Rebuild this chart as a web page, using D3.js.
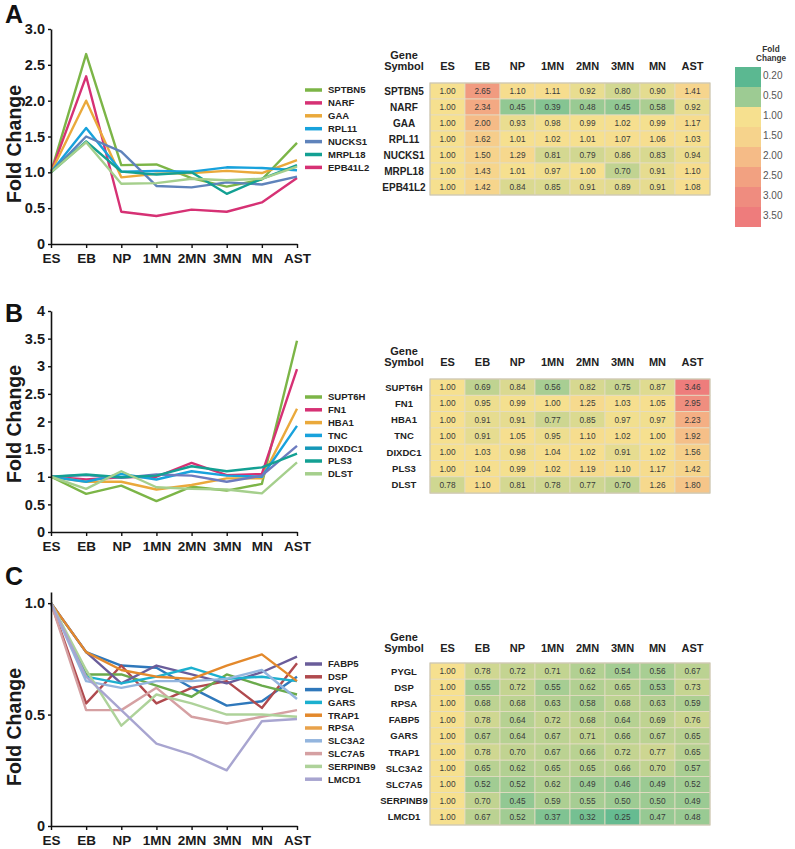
<!DOCTYPE html>
<html><head><meta charset="utf-8">
<script src="https://cdn.jsdelivr.net/npm/d3@7"></script>
<style>body{margin:0;background:#fff}svg{display:block;font-family:"Liberation Sans",Arial,Helvetica,sans-serif}</style>
</head><body><svg id="c" width="795" height="849"></svg>
<script>
// ---------- DATA ----------
const stages = ["ES","EB","NP","1MN","2MN","3MN","MN","AST"];

const genesA = ["SPTBN5","NARF","GAA","RPL11","NUCKS1","MRPL18","EPB41L2"];
const valuesA = [
  [1.00,2.65,1.10,1.11,0.92,0.80,0.90,1.41],
  [1.00,2.34,0.45,0.39,0.48,0.45,0.58,0.92],
  [1.00,2.00,0.93,0.98,0.99,1.02,0.99,1.17],
  [1.00,1.62,1.01,1.02,1.01,1.07,1.06,1.03],
  [1.00,1.50,1.29,0.81,0.79,0.86,0.83,0.94],
  [1.00,1.43,1.01,0.97,1.00,0.70,0.91,1.10],
  [1.00,1.42,0.84,0.85,0.91,0.89,0.91,1.08]
];
const lineColorsA = ["#7cb547","#d63174","#eaa93b","#18a2dc","#5f83bb","#13a093","#a5cf8c"];
const legendColorsA = ["#7cb547","#d63174","#eaa93b","#18a2dc","#5f83bb","#13a093","#d63174"];
const ticksA = [0,0.5,1.0,1.5,2.0,2.5,3.0];
const tickLabelsA = ["0","0.5","1.0","1.5","2.0","2.5","3.0"];

const genesB = ["SUPT6H","FN1","HBA1","TNC","DIXDC1","PLS3","DLST"];
const valuesB = [
  [1.00,0.69,0.84,0.56,0.82,0.75,0.87,3.46],
  [1.00,0.95,0.99,1.00,1.25,1.03,1.05,2.95],
  [1.00,0.91,0.91,0.77,0.85,0.97,0.97,2.23],
  [1.00,0.91,1.05,0.95,1.10,1.02,1.00,1.92],
  [1.00,1.03,0.98,1.04,1.02,0.91,1.02,1.56],
  [1.00,1.04,0.99,1.02,1.19,1.10,1.17,1.42],
  [0.78,1.10,0.81,0.78,0.77,0.70,1.26,1.80]
];
// the DLST curve as drawn in the line chart
const dlstLineB = [1.00,0.78,1.10,0.81,0.78,0.77,0.70,1.26];
const lineColorsB = ["#7cb547","#d63174","#eaa93b","#18a2dc","#6c7bbf","#13a093","#a5cf8c"];
const legendColorsB = ["#7cb547","#d63174","#eaa93b","#18a2dc","#1597b8","#13a093","#a5cf8c"];
const ticksB = [0,0.5,1,1.5,2,2.5,3,3.5,4];
const tickLabelsB = ["0","0.5","1","1.5","2","2.5","3","3.5","4"];

const genesC = ["PYGL","DSP","RPSA","FABP5","GARS","TRAP1","SLC3A2","SLC7A5","SERPINB9","LMCD1"];
const valuesC = [
  [1.00,0.78,0.72,0.71,0.62,0.54,0.56,0.67],
  [1.00,0.55,0.72,0.55,0.62,0.65,0.53,0.73],
  [1.00,0.68,0.68,0.63,0.58,0.68,0.63,0.59],
  [1.00,0.78,0.64,0.72,0.68,0.64,0.69,0.76],
  [1.00,0.67,0.64,0.67,0.71,0.66,0.67,0.65],
  [1.00,0.78,0.70,0.67,0.66,0.72,0.77,0.65],
  [1.00,0.65,0.62,0.65,0.65,0.66,0.70,0.57],
  [1.00,0.52,0.52,0.62,0.49,0.46,0.49,0.52],
  [1.00,0.70,0.45,0.59,0.55,0.50,0.50,0.49],
  [1.00,0.67,0.52,0.37,0.32,0.25,0.47,0.48]
];
const legendOrderC = ["FABP5","DSP","PYGL","GARS","TRAP1","RPSA","SLC3A2","SLC7A5","SERPINB9","LMCD1"];
const lineColorsC = ["#2f78bb","#b04a4e","#6aaa4c","#6a5d9a","#1cb0cf","#e3892c","#93b5de","#d5a0a2","#aed29a","#a8a5d0"];
const legendColorsC = ["#2f78bb","#b04a4e","#e9a24a","#6a5d9a","#1cb0cf","#e3892c","#93b5de","#d5a0a2","#aed29a","#a8a5d0"];
const ticksC = [0,0.5,1.0];
const tickLabelsC = ["0","0.5","1.0"];

const scaleBreaks = [0.20,0.50,1.00,1.50,2.00,2.50,3.00,3.50];
const scaleLabels = ["0.20","0.50","1.00","1.50","2.00","2.50","3.00","3.50"];
const scaleColors = ["#5bb891","#9dcb93","#f6e08f","#f6d38c","#f5bb87","#f2a181","#ef8c7f","#ee7c7c"];

// ---------- DRAW ----------
const svg = d3.select("#c");
const FONT = '"Liberation Sans",Arial,Helvetica,sans-serif';
const color = d3.scaleLinear().domain(scaleBreaks).range(scaleColors).clamp(true);

function linePanel(o){
  const g = svg.append("g");
  const x = d3.scalePoint().domain(stages).range([51,297]);
  const y = d3.scaleLinear().domain(o.yDomain).range(o.yRange);
  const line = d3.line().x((d,i)=>x(stages[i])).y(d=>y(d));
  o.lines.forEach((vals,i)=>{
    g.append("path").attr("d",line(vals)).attr("fill","none")
      .attr("stroke",o.lineColors[i]).attr("stroke-width",2.4)
      .attr("stroke-linejoin","round");
  });
  const ya = g.append("g").attr("transform","translate(51,0)")
    .call(d3.axisLeft(y).tickValues(o.ticks).tickFormat((d,i)=>o.tickLabels[i]).tickSize(3).tickSizeOuter(0).tickPadding(3));
  const xa = g.append("g").attr("transform",`translate(0,${o.yRange[0]})`)
    .call(d3.axisBottom(x).tickSize(4).tickSizeOuter(0).tickPadding(5));
  [ya,xa].forEach(a=>{
    a.select(".domain").attr("stroke","#111").attr("stroke-width",1.6);
    a.selectAll(".tick line").attr("stroke","#111").attr("stroke-width",1.4);
    a.selectAll("text").attr("fill","#1a1a1a").attr("font-family",FONT).attr("font-weight","bold");
  });
  ya.selectAll("text").attr("font-size",14.5);
  xa.selectAll("text").attr("font-size",13.5);
  g.append("text").attr("transform",`translate(21,${o.foldY}) rotate(-90)`)
    .attr("text-anchor","middle").attr("font-size",19.5).attr("font-weight","bold")
    .attr("fill","#1a1a1a").text("Fold Change");
  g.append("text").attr("x",5).attr("y",o.letterY).attr("font-size",25)
    .attr("font-weight","bold").attr("fill","#111").text(o.letter);
  o.legendOrder.forEach((name,k)=>{
    const i = o.genes.indexOf(name);
    const ly = o.legendY0 + k*o.legendDy;
    g.append("line").attr("x1",305).attr("x2",322).attr("y1",ly).attr("y2",ly)
      .attr("stroke",o.legendColors[i]).attr("stroke-width",3.5);
    g.append("text").attr("x",328).attr("y",ly).attr("dy","0.36em")
      .attr("font-size",9.5).attr("font-weight","bold").attr("fill","#222").text(name);
  });
}

function table(o){
  const g = svg.append("g");
  const cx = d3.scaleBand().domain(stages).range([430,710]);
  const ry = d3.scaleBand().domain(o.genes).range([o.top,o.top+o.rowH*o.genes.length]);
  g.append("text").attr("x",404).attr("y",o.headY-11.5).attr("text-anchor","middle")
    .attr("font-size",11).attr("font-weight","bold").attr("fill","#222").text("Gene");
  g.append("text").attr("x",404).attr("y",o.headY).attr("text-anchor","middle")
    .attr("font-size",11).attr("font-weight","bold").attr("fill","#222").text("Symbol");
  stages.forEach(s=>{
    g.append("text").attr("x",cx(s)+cx.bandwidth()/2).attr("y",o.headY).attr("text-anchor","middle")
      .attr("font-size",11).attr("font-weight","bold").attr("fill","#222").text(s);
  });
  o.genes.forEach((gene,r)=>{
    g.append("text").attr("x",404).attr("y",ry(gene)+ry.bandwidth()/2).attr("dy","0.36em")
      .attr("text-anchor","middle").attr("font-size",o.geneFont).attr("font-weight","bold")
      .attr("fill","#222").text(gene);
    o.values[r].forEach((v,c)=>{
      const s = stages[c];
      g.append("rect").attr("x",cx(s)).attr("y",ry(gene)).attr("width",cx.bandwidth())
        .attr("height",ry.bandwidth()).attr("fill",color(v))
        .attr("stroke","#e4dcc4").attr("stroke-width",0.8);
      g.append("text").attr("x",cx(s)+cx.bandwidth()/2).attr("y",ry(gene)+ry.bandwidth()/2)
        .attr("dy","0.36em").attr("text-anchor","middle").attr("font-size",8.3)
        .attr("fill","#3a3a3a").text(v.toFixed(2));
    });
  });
  g.append("rect").attr("x",430).attr("y",o.top).attr("width",280)
    .attr("height",o.rowH*o.genes.length).attr("fill","none")
    .attr("stroke","#c8c2ae").attr("stroke-width",1);
}

linePanel({letter:"A",letterY:23,genes:genesA,lines:valuesA,lineColors:lineColorsA,
  legendColors:legendColorsA,legendOrder:genesA,yDomain:[0,3],yRange:[244,29],
  ticks:ticksA,tickLabels:tickLabelsA,foldY:144,legendY0:90,legendDy:12.9});
linePanel({letter:"B",letterY:322,genes:genesB,lines:valuesB.slice(0,6).concat([dlstLineB]),
  lineColors:lineColorsB,legendColors:legendColorsB,legendOrder:genesB,yDomain:[0,4],yRange:[532,311],
  ticks:ticksB,tickLabels:tickLabelsB,foldY:424,legendY0:397,legendDy:12.8});
linePanel({letter:"C",letterY:585,genes:genesC,lines:valuesC,lineColors:lineColorsC,
  legendColors:legendColorsC,legendOrder:legendOrderC,yDomain:[0,1.05],yRange:[826,592],
  ticks:ticksC,tickLabels:tickLabelsC,foldY:727,legendY0:664,legendDy:12.8});

table({genes:genesA,values:valuesA,top:83,rowH:16,headY:70,geneFont:10});
table({genes:genesB,values:valuesB,top:379,rowH:16.3,headY:366,geneFont:9.5});
table({genes:genesC,values:valuesC,top:663,rowH:16.2,headY:652,geneFont:9.5});

// colour key
const key = svg.append("g");
const ky = d3.scaleBand().domain(scaleLabels).range([67,227]);
scaleLabels.forEach((lab,i)=>{
  key.append("rect").attr("x",735).attr("y",ky(lab)).attr("width",26).attr("height",ky.bandwidth())
    .attr("fill",scaleColors[i]);
  key.append("text").attr("x",763).attr("y",ky(lab)+12).attr("font-size",10)
    .attr("fill","#555").text(lab);
});
key.append("text").attr("x",771).attr("y",52).attr("text-anchor","middle").attr("font-size",8.2)
  .attr("font-weight","bold").attr("fill","#333").text("Fold");
key.append("text").attr("x",771).attr("y",61).attr("text-anchor","middle").attr("font-size",8.2)
  .attr("font-weight","bold").attr("fill","#333").text("Change");
</script></body></html>
